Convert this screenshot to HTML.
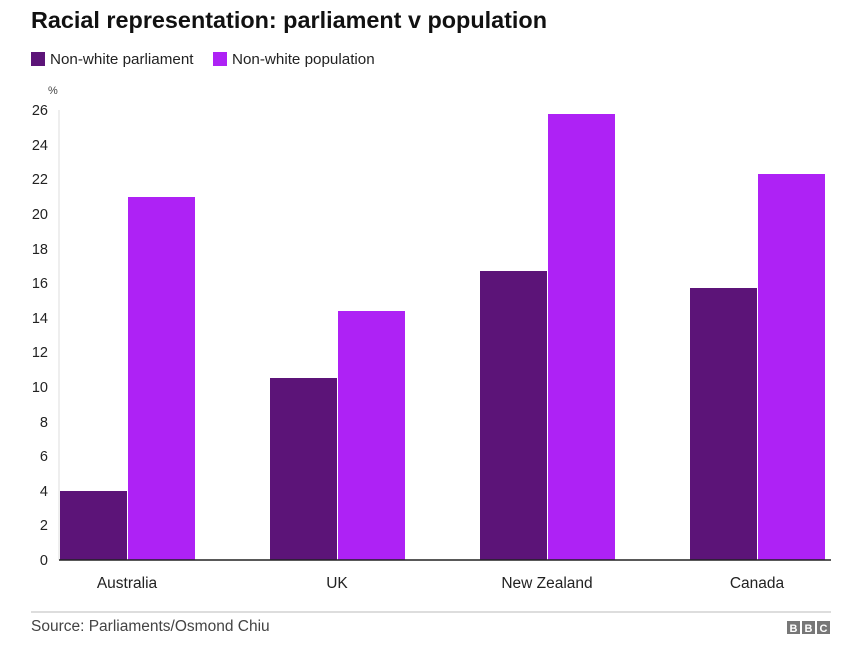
<!DOCTYPE html>
<html><head><meta charset="utf-8"><style>
body{margin:0;background:#fff;font-family:"Liberation Sans",Arial,sans-serif;}
</style></head><body>
<svg width="861" height="644" xmlns="http://www.w3.org/2000/svg" font-family="Liberation Sans, Arial, sans-serif">
<text x="31" y="28" font-size="23.4" font-weight="bold" fill="#111">Racial representation: parliament v population</text>
<rect x="31" y="52" width="14" height="14" fill="#5c1478"/>
<text x="50" y="64" font-size="15.2" fill="#222">Non-white parliament</text>
<rect x="213" y="52" width="14" height="14" fill="#ae22f5"/>
<text x="232" y="64" font-size="15.2" fill="#222">Non-white population</text>
<text x="48" y="94" font-size="11" fill="#444">%</text>
<g font-size="14.5" fill="#222" text-anchor="end">
<text x="48" y="565">0</text><text x="48" y="530">2</text><text x="48" y="496">4</text><text x="48" y="461">6</text><text x="48" y="427">8</text><text x="48" y="392">10</text><text x="48" y="357">12</text><text x="48" y="323">14</text><text x="48" y="288">16</text><text x="48" y="254">18</text><text x="48" y="219">20</text><text x="48" y="184">22</text><text x="48" y="150">24</text><text x="48" y="115">26</text>
</g>
<line x1="59" y1="110" x2="59" y2="560" stroke="#ddd" stroke-width="1"/>
<g fill="#5c1478">
<rect x="60" y="491" width="67" height="69"/>
<rect x="270" y="378" width="67" height="182"/>
<rect x="480" y="271" width="67" height="289"/>
<rect x="690" y="288" width="67" height="272"/>
</g>
<g fill="#ae22f5">
<rect x="128" y="197" width="67" height="363"/>
<rect x="338" y="311" width="67" height="249"/>
<rect x="548" y="114" width="67" height="446"/>
<rect x="758" y="174" width="67" height="386"/>
</g>
<line x1="59" y1="560" x2="831" y2="560" stroke="#222" stroke-width="1.5"/>
<g font-size="15.5" fill="#222" text-anchor="middle">
<text x="127" y="588">Australia</text><text x="337" y="588">UK</text><text x="547" y="588">New Zealand</text><text x="757" y="588">Canada</text>
</g>
<line x1="31" y1="612" x2="831" y2="612" stroke="#bbb" stroke-width="1"/>
<text x="31" y="631" font-size="15.5" fill="#444">Source: Parliaments/Osmond Chiu</text>
<g font-size="11" font-weight="bold" fill="#fff" text-anchor="middle">
<rect x="787" y="621" width="13" height="13" fill="#777"/><text x="793.5" y="632">B</text>
<rect x="802" y="621" width="13" height="13" fill="#777"/><text x="808.5" y="632">B</text>
<rect x="817" y="621" width="13" height="13" fill="#777"/><text x="823.5" y="632">C</text>
</g>
</svg>
</body></html>
